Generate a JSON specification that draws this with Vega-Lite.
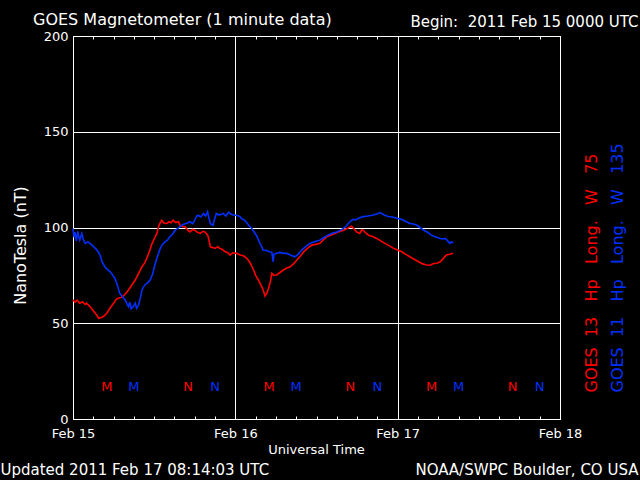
{
  "$schema": "https://vega.github.io/schema/vega-lite/v6.json",
  "width": 487,
  "height": 383,
  "autosize": "none",
  "padding": {"left": 73, "top": 36, "right": 80, "bottom": 61},
  "background": "black",
  "config": {
    "view": {"stroke": "white", "strokeWidth": 1},
    "font": "DejaVu Sans",
    "axis": {"labelFont": "DejaVu Sans", "titleFont": "DejaVu Sans", "titleFontWeight": "normal", "labelColor": "white", "titleColor": "white", "tickColor": "white", "gridColor": "white", "domain": false}
  },
  "title": {"text": "GOES Magnetometer (1 minute data)", "anchor": "start", "frame": "group", "color": "white", "fontSize": 16, "fontWeight": "normal", "font": "DejaVu Sans", "dx": -40, "dy": 18, "offset": 4},
  "datasets": {
    "red": [
      {"h":0,"nT":62.2},{"h":0.3,"nT":61.0},{"h":0.6,"nT":62.0},{"h":1.0,"nT":60.4},{"h":1.4,"nT":61.2},{"h":1.8,"nT":59.8},{"h":2.0,"nT":60.5},{"h":2.5,"nT":58.7},{"h":3.0,"nT":56.5},{"h":3.5,"nT":54.3},{"h":3.8,"nT":52.6},{"h":4.2,"nT":53.0},{"h":4.5,"nT":53.5},{"h":5.0,"nT":55.2},{"h":5.5,"nT":58.0},{"h":6.0,"nT":60.4},{"h":6.4,"nT":62.5},{"h":6.7,"nT":63.0},{"h":7.1,"nT":63.5},{"h":7.4,"nT":64.2},{"h":7.8,"nT":65.5},{"h":8.2,"nT":67.4},{"h":8.7,"nT":70.0},{"h":9.2,"nT":72.6},{"h":9.7,"nT":76.0},{"h":10.2,"nT":79.5},{"h":10.6,"nT":81.5},{"h":10.9,"nT":83.9},{"h":11.3,"nT":87.5},{"h":11.6,"nT":90.8},{"h":12.0,"nT":94.0},{"h":12.4,"nT":96.9},{"h":12.7,"nT":101.0},{"h":13.1,"nT":103.8},{"h":13.4,"nT":102.5},{"h":13.8,"nT":102.0},{"h":14.2,"nT":103.0},{"h":14.5,"nT":102.5},{"h":14.8,"nT":103.8},{"h":15.2,"nT":102.6},{"h":15.6,"nT":103.0},{"h":15.8,"nT":101.2},{"h":16.2,"nT":100.5},{"h":16.6,"nT":100.3},{"h":17.0,"nT":98.5},{"h":17.3,"nT":97.7},{"h":17.7,"nT":99.0},{"h":18.0,"nT":98.6},{"h":18.4,"nT":97.5},{"h":18.8,"nT":96.9},{"h":19.2,"nT":98.0},{"h":19.5,"nT":97.7},{"h":19.8,"nT":96.5},{"h":20.0,"nT":95.1},{"h":20.3,"nT":89.9},{"h":20.7,"nT":89.5},{"h":21.0,"nT":89.1},{"h":21.4,"nT":90.0},{"h":21.7,"nT":89.1},{"h":22.1,"nT":88.5},{"h":22.5,"nT":87.3},{"h":22.9,"nT":86.8},{"h":23.2,"nT":85.6},{"h":23.6,"nT":86.8},{"h":24.2,"nT":86.5},{"h":24.7,"nT":85.6},{"h":25.2,"nT":85.2},{"h":25.7,"nT":83.9},{"h":26.2,"nT":81.5},{"h":26.7,"nT":77.8},{"h":27.0,"nT":75.0},{"h":27.4,"nT":72.6},{"h":27.9,"nT":69.1},{"h":28.2,"nT":66.5},{"h":28.4,"nT":64.2},{"h":28.7,"nT":66.0},{"h":28.9,"nT":68.2},{"h":29.2,"nT":72.0},{"h":29.4,"nT":76.1},{"h":29.7,"nT":75.0},{"h":30.1,"nT":75.2},{"h":30.6,"nT":76.5},{"h":31.1,"nT":77.8},{"h":31.6,"nT":78.8},{"h":32.1,"nT":79.5},{"h":32.6,"nT":81.0},{"h":33.1,"nT":83.0},{"h":33.6,"nT":85.0},{"h":34.1,"nT":87.3},{"h":34.7,"nT":89.2},{"h":35.3,"nT":90.8},{"h":35.9,"nT":91.2},{"h":36.5,"nT":91.7},{"h":37.0,"nT":93.5},{"h":37.5,"nT":95.1},{"h":38.1,"nT":96.0},{"h":38.7,"nT":96.9},{"h":39.3,"nT":97.8},{"h":40.0,"nT":98.6},{"h":40.6,"nT":99.6},{"h":41.2,"nT":100.7},{"h":41.5,"nT":99.5},{"h":41.7,"nT":98.6},{"h":42.0,"nT":97.5},{"h":42.4,"nT":96.9},{"h":42.7,"nT":98.8},{"h":42.9,"nT":98.6},{"h":43.3,"nT":97.0},{"h":43.7,"nT":96.0},{"h":44.3,"nT":95.3},{"h":44.9,"nT":94.3},{"h":45.5,"nT":93.0},{"h":46.1,"nT":91.7},{"h":46.8,"nT":90.4},{"h":47.4,"nT":89.1},{"h":48.0,"nT":88.2},{"h":48.6,"nT":87.3},{"h":49.2,"nT":86.0},{"h":49.8,"nT":84.7},{"h":50.5,"nT":83.3},{"h":51.1,"nT":82.1},{"h":51.7,"nT":81.0},{"h":52.3,"nT":80.4},{"h":52.8,"nT":80.3},{"h":53.3,"nT":81.2},{"h":53.8,"nT":81.3},{"h":54.3,"nT":82.1},{"h":54.8,"nT":84.0},{"h":55.2,"nT":85.6},{"h":55.7,"nT":86.0},{"h":56.2,"nT":86.5}
    ],
    "blue": [
      {"h":0,"nT":99.5},{"h":0.15,"nT":95.0},{"h":0.3,"nT":97.5},{"h":0.5,"nT":93.0},{"h":0.7,"nT":98.0},{"h":0.8,"nT":96.0},{"h":1.0,"nT":93.5},{"h":1.3,"nT":96.9},{"h":1.5,"nT":94.0},{"h":1.8,"nT":91.7},{"h":2.2,"nT":92.5},{"h":2.5,"nT":91.7},{"h":2.9,"nT":90.5},{"h":3.3,"nT":89.1},{"h":3.6,"nT":88.0},{"h":4.0,"nT":85.6},{"h":4.3,"nT":82.0},{"h":4.7,"nT":79.5},{"h":5.1,"nT":78.0},{"h":5.5,"nT":76.9},{"h":5.9,"nT":75.0},{"h":6.2,"nT":73.4},{"h":6.6,"nT":69.5},{"h":6.9,"nT":65.6},{"h":7.3,"nT":64.0},{"h":7.7,"nT":62.2},{"h":8.0,"nT":60.0},{"h":8.2,"nT":58.7},{"h":8.4,"nT":61.0},{"h":8.6,"nT":57.5},{"h":8.9,"nT":58.7},{"h":9.2,"nT":60.5},{"h":9.4,"nT":57.8},{"h":9.7,"nT":59.5},{"h":10.0,"nT":64.0},{"h":10.2,"nT":67.4},{"h":10.6,"nT":70.0},{"h":11.0,"nT":71.0},{"h":11.4,"nT":72.6},{"h":11.8,"nT":76.0},{"h":12.1,"nT":80.4},{"h":12.5,"nT":85.0},{"h":12.9,"nT":89.1},{"h":13.2,"nT":91.0},{"h":13.6,"nT":92.5},{"h":14.0,"nT":93.5},{"h":14.3,"nT":95.1},{"h":14.7,"nT":96.5},{"h":15.1,"nT":98.6},{"h":15.5,"nT":99.5},{"h":15.8,"nT":100.3},{"h":16.2,"nT":101.5},{"h":16.6,"nT":102.0},{"h":17.0,"nT":102.5},{"h":17.3,"nT":103.0},{"h":17.7,"nT":102.0},{"h":18.0,"nT":103.8},{"h":18.3,"nT":106.0},{"h":18.5,"nT":106.4},{"h":18.9,"nT":105.5},{"h":19.3,"nT":107.3},{"h":19.6,"nT":106.0},{"h":19.9,"nT":108.2},{"h":20.1,"nT":105.0},{"h":20.3,"nT":102.0},{"h":20.7,"nT":101.2},{"h":20.9,"nT":104.0},{"h":21.2,"nT":107.3},{"h":21.6,"nT":106.5},{"h":22.2,"nT":107.3},{"h":22.6,"nT":106.0},{"h":23.0,"nT":108.0},{"h":23.2,"nT":107.3},{"h":23.7,"nT":106.5},{"h":24.2,"nT":106.4},{"h":24.7,"nT":105.7},{"h":24.9,"nT":104.7},{"h":25.3,"nT":104.0},{"h":25.7,"nT":102.5},{"h":26.0,"nT":101.0},{"h":26.4,"nT":99.6},{"h":26.8,"nT":97.5},{"h":27.2,"nT":95.3},{"h":27.6,"nT":92.0},{"h":27.9,"nT":90.0},{"h":28.1,"nT":88.2},{"h":28.6,"nT":88.0},{"h":29.1,"nT":87.3},{"h":29.4,"nT":87.0},{"h":29.6,"nT":82.1},{"h":29.7,"nT":86.0},{"h":30.1,"nT":86.5},{"h":30.6,"nT":87.0},{"h":31.1,"nT":86.5},{"h":31.6,"nT":86.5},{"h":32.1,"nT":85.6},{"h":32.8,"nT":84.7},{"h":33.3,"nT":86.0},{"h":33.8,"nT":88.2},{"h":34.4,"nT":90.0},{"h":35.0,"nT":91.7},{"h":35.7,"nT":92.5},{"h":36.5,"nT":93.4},{"h":37.1,"nT":94.8},{"h":37.7,"nT":96.0},{"h":38.3,"nT":97.0},{"h":39.0,"nT":97.7},{"h":39.5,"nT":98.5},{"h":40.0,"nT":99.5},{"h":40.4,"nT":100.8},{"h":40.7,"nT":102.1},{"h":41.1,"nT":103.5},{"h":41.4,"nT":104.3},{"h":41.8,"nT":104.0},{"h":42.3,"nT":105.0},{"h":42.9,"nT":105.7},{"h":43.6,"nT":106.0},{"h":44.4,"nT":106.5},{"h":44.9,"nT":107.0},{"h":45.4,"nT":107.8},{"h":46.0,"nT":106.5},{"h":46.6,"nT":105.7},{"h":47.2,"nT":105.5},{"h":47.9,"nT":104.8},{"h":48.3,"nT":104.5},{"h":48.8,"nT":103.9},{"h":49.3,"nT":103.0},{"h":49.8,"nT":102.1},{"h":50.3,"nT":101.8},{"h":50.8,"nT":101.3},{"h":51.3,"nT":100.0},{"h":51.8,"nT":98.7},{"h":52.4,"nT":97.5},{"h":53.0,"nT":96.0},{"h":53.6,"nT":95.0},{"h":54.3,"nT":94.3},{"h":54.7,"nT":94.0},{"h":55.0,"nT":94.3},{"h":55.4,"nT":93.0},{"h":55.7,"nT":91.7},{"h":56.0,"nT":92.5},{"h":56.2,"nT":92.0}
    ],
    "redmn": [{"h":5,"c":"M"},{"h":17,"c":"N"},{"h":29,"c":"M"},{"h":41,"c":"N"},{"h":53,"c":"M"},{"h":65,"c":"N"}],
    "bluemn": [{"h":9,"c":"M"},{"h":21,"c":"N"},{"h":33,"c":"M"},{"h":45,"c":"N"},{"h":57,"c":"M"},{"h":69,"c":"N"}]
  },
  "layer": [
    {
      "data": {"name": "red"},
      "mark": {"type": "line", "color": "#ff0000", "strokeWidth": 1.6},
      "encoding": {
        "x": {"field": "h", "type": "quantitative", "scale": {"domain": [0, 72], "nice": false},
          "axis": {"orient": "bottom", "values": [0,3,6,9,12,15,18,21,24,27,30,33,36,39,42,45,48,51,54,57,60,63,66,69,72],
            "labelExpr": "datum.value % 24 === 0 ? 'Feb ' + (15 + datum.value / 24) : ''",
            "labelFontSize": 13, "labelPadding": 11, "labelFlush": false, "labelOverlap": false,
            "tickSize": -3, "tickWidth": 1,
            "grid": true, "gridWidth": 1, "gridOpacity": {"condition": {"test": "datum.value % 24 === 0", "value": 1}, "value": 0},
            "title": "Universal Time", "titleFontSize": 13, "titleX": 243, "titleY": 34, "titleAlign": "center", "titleBaseline": "alphabetic"}},
        "y": {"field": "nT", "type": "quantitative", "scale": {"domain": [0, 200], "nice": false},
          "axis": {"orient": "left", "values": [0, 50, 100, 150, 200], "labelFontSize": 13, "labelPadding": 5,
            "ticks": false, "grid": true, "gridWidth": 1, "gridOpacity": 1,
            "title": "NanoTesla (nT)", "titleFontSize": 16, "titleAngle": 270, "titleX": -48, "titleY": 209, "titleAlign": "center", "titleBaseline": "alphabetic"}}
      }
    },
    {
      "data": {"name": "blue"},
      "mark": {"type": "line", "color": "#0030ff", "strokeWidth": 1.6},
      "encoding": {
        "x": {"field": "h", "type": "quantitative", "scale": {"domain": [0, 72], "nice": false},
          "axis": {"orient": "top", "values": [0,3,6,9,12,15,18,21,24,27,30,33,36,39,42,45,48,51,54,57,60,63,66,69,72],
            "labels": false, "tickSize": -3, "tickWidth": 1, "grid": false,
            "title": "Begin:\u00a0\u00a02011\u00a0Feb\u00a015\u00a00000\u00a0UTC", "titleFontSize": 15, "titleX": 565, "titleY": -10, "titleAlign": "right", "titleBaseline": "alphabetic"}},
        "y": {"field": "nT", "type": "quantitative", "scale": {"domain": [0, 200], "nice": false},
          "axis": {"orient": "right", "labels": false, "ticks": false, "grid": false,
            "title": "GOES\u00a0\u00a013\u00a0\u00a0\u00a0Hp\u00a0\u00a0\u00a0Long.\u00a0\u00a0\u00a0W\u00a0\u00a0\u00a075", "titleColor": "#ff0000", "titleFontSize": 16, "titleAngle": 270, "titleX": 36, "titleY": 356, "titleAlign": "left", "titleBaseline": "alphabetic"}}
      }
    },
    {
      "data": {"name": "redmn"},
      "mark": {"type": "text", "color": "#ff0000", "fontSize": 13, "baseline": "alphabetic", "align": "center", "font": "DejaVu Sans"},
      "encoding": {
        "x": {"field": "h", "type": "quantitative", "scale": {"domain": [0, 72], "nice": false},
          "axis": {"orient": "bottom", "labels": false, "ticks": false, "grid": false,
            "title": "Updated 2011 Feb 17 08:14:03 UTC", "titleFontSize": 15, "titleX": -73, "titleY": 55, "titleAlign": "left", "titleBaseline": "alphabetic"}},
        "y": {"datum": 14.6, "type": "quantitative", "scale": {"domain": [0, 200], "nice": false},
          "axis": {"orient": "right", "labels": false, "ticks": false, "grid": false,
            "title": "GOES\u00a0\u00a011\u00a0\u00a0\u00a0Hp\u00a0\u00a0\u00a0Long.\u00a0\u00a0\u00a0W\u00a0\u00a0\u00a0135", "titleColor": "#0030ff", "titleFontSize": 16, "titleAngle": 270, "titleX": 62, "titleY": 356, "titleAlign": "left", "titleBaseline": "alphabetic"}},
        "text": {"field": "c"}
      }
    },
    {
      "data": {"name": "bluemn"},
      "mark": {"type": "text", "color": "#0030ff", "fontSize": 13, "baseline": "alphabetic", "align": "center", "font": "DejaVu Sans"},
      "encoding": {
        "x": {"field": "h", "type": "quantitative", "scale": {"domain": [0, 72], "nice": false},
          "axis": {"orient": "bottom", "labels": false, "ticks": false, "grid": false,
            "title": "NOAA/SWPC Boulder, CO USA", "titleFontSize": 15, "titleX": 565, "titleY": 55, "titleAlign": "right", "titleBaseline": "alphabetic"}},
        "y": {"datum": 14.6, "type": "quantitative", "scale": {"domain": [0, 200], "nice": false}, "axis": null},
        "text": {"field": "c"}
      }
    }
  ],
  "resolve": {"axis": {"x": "independent", "y": "independent"}}
}
